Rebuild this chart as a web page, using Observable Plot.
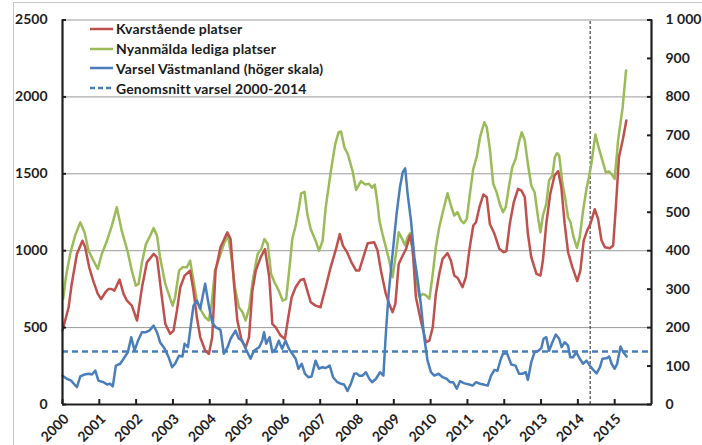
<!DOCTYPE html>
<html><head><meta charset="utf-8">
<script src="https://cdn.jsdelivr.net/npm/d3@7"></script>
<script src="https://cdn.jsdelivr.net/npm/@observablehq/plot@0.6"></script>
<style>
body{margin:0;background:#fff;overflow:hidden}
#wrap{position:relative;width:702px;height:445px;overflow:hidden;font-family:Lato,sans-serif}
#frame{position:absolute;left:13px;top:2px;width:800px;height:600px;border-left:1px solid #c6c6c6;border-top:1px solid #c6c6c6;pointer-events:none}
#legend{position:absolute;left:90px;top:19px;font-weight:bold;font-size:14px;letter-spacing:0.15px;color:#1a1a1a;font-family:Lato,sans-serif}
.row{height:19.8px;display:flex;align-items:center;white-space:nowrap}
.row svg{margin-right:2px}
</style></head>
<body><div id="wrap"><div id="frame"></div><div id="chart"></div><div id="legend"></div></div>
<script>
// Series: [month index from Jan 2000, value]
const kvarstaende = [[0,481],[2,632],[3,784],[4.7,979],[6.5,1065],[7.4,1022],[8.7,892],[10,805],[11.5,719],[12.6,686],[14,730],[15,751],[16,751],[16.9,740],[18.6,812],[19.9,719],[21,675],[22.6,643],[24.3,546],[25.9,760],[27.5,924],[29.7,979],[30.8,957],[32.4,697],[33.5,524],[35.1,459],[36.2,481],[37.3,611],[38.4,762],[39.8,838],[41.6,870],[42.7,740],[43.8,567],[44.9,437],[46.5,351],[47.7,329],[48.8,437],[49.9,870],[51.5,1022],[53.7,1119],[54.8,1076],[55.9,784],[57,546],[58.4,416],[59.7,372],[60.8,437],[61.9,740],[63,870],[64.6,957],[66,1011],[67.4,827],[68.4,524],[69.5,502],[71.1,448],[72.5,426],[73.6,567],[74.7,697],[76,762],[77.6,810],[78.7,816],[79.8,740],[80.9,665],[82.5,643],[84.1,632],[85.8,762],[87.4,892],[89,1000],[90.4,1108],[91.4,1033],[92.8,989],[94.2,924],[95.7,871],[96.7,871],[98.4,979],[99.5,1049],[101.6,1055],[102.7,1001],[103.8,871],[105.4,719],[106.5,654],[107.6,600],[108.5,654],[109.6,914],[110.9,969],[112,1012],[113.3,1099],[114.1,1023],[115.2,698],[116.8,546],[118.5,405],[119.6,416],[120.7,503],[121.7,719],[122.8,849],[123.9,947],[125.5,984],[126.6,936],[127.7,839],[128.8,823],[130.4,763],[131.5,828],[132.6,1001],[133.9,1164],[134.8,1185],[135.9,1283],[137.2,1365],[138.3,1348],[139.3,1174],[140.8,1110],[142.4,1012],[143.8,990],[144.7,997],[145.8,1174],[147.1,1315],[148.5,1402],[149.6,1391],[150.7,1348],[151.7,1110],[152.8,958],[154.5,849],[155.8,838],[156.6,936],[157.7,1174],[159,1370],[160.4,1489],[161.6,1517],[162.6,1413],[163.7,1174],[164.8,990],[166.2,893],[167.8,802],[168.8,871],[169.9,1066],[171,1131],[172.1,1174],[173.5,1270],[174.6,1205],[175.7,1066],[176.8,1023],[178.4,1016],[179.5,1034],[180.3,1261],[181.4,1608],[182.7,1728],[183.8,1847]];

const nyanmalda = [[0.2,686],[1.1,827],[2.5,979],[4.1,1098],[5.8,1184],[7.2,1119],[8.5,1000],[10.1,935],[11.5,881],[12.8,979],[14.5,1065],[16.1,1163],[17.7,1282],[19.3,1130],[21.3,989],[22.6,870],[23.9,773],[24.8,784],[25.9,924],[27.2,1043],[28.6,1098],[29.7,1147],[30.8,1098],[31.8,957],[33.5,784],[34.6,719],[35.9,643],[36.7,697],[38,870],[39.1,892],[40.5,892],[41.6,935],[42.7,805],[43.8,675],[45.2,611],[46.5,567],[47.7,546],[48.6,654],[49.7,870],[51,946],[52.6,1044],[54,1098],[55.2,935],[56.2,762],[57.5,632],[58.7,600],[59.7,546],[60.9,632],[62,805],[63.6,979],[64.8,1011],[65.8,1076],[66.9,1044],[68,849],[69.1,795],[70.5,740],[71.8,675],[72.9,686],[74,892],[74.9,1076],[76,1163],[77.1,1282],[77.8,1373],[78.9,1383],[79.8,1238],[80.9,1141],[82.5,1065],[83.6,1000],[84.8,1065],[85.8,1282],[87.5,1520],[88.9,1693],[90,1769],[90.8,1775],[91.9,1671],[93,1628],[94.6,1515],[95.7,1395],[97.3,1452],[98.7,1430],[99.9,1435],[100.9,1409],[101.8,1430],[102.7,1305],[103.3,1196],[104.3,1109],[105.4,1023],[106.5,936],[107.6,828],[108.7,979],[109.6,1120],[110.7,1077],[111.7,1034],[112.5,1088],[113.3,1114],[114.1,1001],[115.2,828],[116.3,698],[117.4,719],[118.5,709],[119.6,687],[120.7,849],[121.7,1023],[122.8,1153],[124.1,1261],[125.5,1374],[126.6,1294],[127.7,1229],[128.8,1250],[129.9,1196],[130.8,1179],[131.8,1207],[132.8,1370],[133.9,1532],[135,1608],[136.1,1738],[137.5,1835],[138.3,1803],[139.3,1662],[140.4,1435],[141.5,1380],[142.6,1300],[143.6,1250],[144.5,1283],[145.5,1413],[146.6,1543],[147.7,1597],[148.8,1705],[149.7,1770],[150.7,1716],[151.7,1565],[152.8,1424],[153.9,1380],[155,1218],[155.8,1120],[156.6,1229],[157.7,1305],[158.6,1456],[159.7,1489],[160.5,1608],[161.2,1634],[161.9,1619],[163,1435],[163.8,1348],[164.8,1218],[165.6,1185],[166.6,1088],[167.7,1018],[168.6,1088],[169.7,1261],[170.8,1402],[171.6,1478],[172.4,1565],[173.7,1755],[174.9,1662],[176,1586],[177.1,1510],[178.2,1515],[179.3,1489],[180,1467],[181.1,1716],[182.6,1933],[183.7,2171]];

// right scale values
const varsel = [[0,75],[1.4,67],[2.8,62],[3.9,52],[4.7,45],[5.8,73],[7.2,78],[8.5,80],[9.6,78],[10.7,88],[11.7,62],[13.4,58],[14.5,52],[15.5,54],[16.4,47],[17.4,101],[18.8,106],[19.9,119],[21.3,136],[22.4,175],[23.5,140],[24.6,166],[25.9,188],[27.2,188],[28.3,192],[29.7,205],[30.8,188],[31.8,162],[33.3,145],[34.6,123],[35.7,97],[36.7,106],[38,127],[39.1,125],[39.8,158],[40.9,149],[41.9,210],[42.7,257],[43.8,270],[44.9,249],[46.5,314],[47.7,257],[48.8,214],[49.9,201],[51.5,194],[52.6,132],[53.8,149],[54.8,171],[56.4,192],[57.5,171],[58.6,166],[59.7,145],[61.3,119],[62.4,140],[64.1,149],[65.1,166],[65.7,188],[66.4,158],[67.5,175],[68.4,136],[69.5,145],[70.5,166],[71.6,145],[72.7,166],[73.8,145],[74.9,132],[76,119],[76.9,93],[78,106],[79,80],[80.1,71],[81.2,73],[82.5,114],[83.6,93],[84.7,97],[85.8,95],[87.1,101],[88.2,71],[89.6,58],[90.7,54],[91.8,52],[92.9,35],[94,54],[95.1,80],[95.8,81],[96.7,75],[97.8,75],[98.9,84],[100,67],[100.9,58],[102.2,67],[103.5,84],[104.6,75],[105.4,184],[106.3,288],[107.6,392],[108.9,496],[110,565],[110.9,604],[111.7,614],[112.5,548],[113.6,478],[114.7,383],[115.8,322],[116.8,262],[117.9,175],[119,114],[120.1,84],[121.2,75],[122.6,80],[123.9,71],[125.2,67],[126.3,58],[127.4,58],[128.5,41],[129.6,61],[131,55],[132.6,52],[133.7,49],[134.8,58],[136.1,54],[137.2,52],[138.6,49],[139.7,75],[140.8,90],[141.8,88],[142.9,119],[143.6,132],[144.9,133],[146.3,104],[147.7,101],[148.8,80],[149.9,80],[151,84],[151.7,64],[152.8,110],[153.9,136],[155,139],[156.1,147],[156.8,171],[157.7,175],[158.6,140],[159.7,162],[160.8,182],[161.9,171],[162.7,149],[163.7,162],[164.8,153],[165.5,123],[166.4,123],[167.5,136],[168.6,119],[169.7,106],[170.8,114],[171.9,101],[173,90],[174.1,81],[175.2,97],[176,119],[177.3,120],[178.2,125],[179,106],[180,93],[180.8,106],[181.9,151],[182.8,136],[183.9,125]];

const genomsnittVarsel = 138;      // average 2000-2014, right scale
const markerMonth = 172;           // vertical dashed marker (May 2014)
const leftTicks = [0, 500, 1000, 1500, 2000, 2500];
const rightTicks = [0, 100, 200, 300, 400, 500, 600, 700, 800, 900, 1000];
const years = d3.range(2000, 2016);
const seriesNames = ["Kvarstående platser", "Nyanmälda lediga platser", "Varsel Västmanland (höger skala)", "Genomsnitt varsel 2000-2014"];
const colors = ["#c0504d", "#9bbb59", "#4a7ebb", "#4a7ebb"];

const ratio = 2.5; // left/right scale ratio
const toYear = m => 2000 + m / 12;
const red = kvarstaende.map(([m, v]) => ({x: toYear(m), y: v}));
const green = nyanmalda.map(([m, v]) => ({x: toYear(m), y: v}));
const blue = varsel.map(([m, v]) => ({x: toYear(m), y: v * ratio}));
const fmtR = v => String(v).replace(/\B(?=(\d{3})+$)/g, " ");

const ink = "#1e1e1e";
const chart = Plot.plot({
  width: 702, height: 445,
  marginLeft: 62, marginRight: 51, marginTop: 19.5, marginBottom: 41,
  x: {domain: [2000, 2016], label: null},
  y: {domain: [0, 2500], label: null},
  style: {fontFamily: "Lato, sans-serif", fontWeight: "bold", fontSize: "14px", color: ink, background: "transparent"},
  marks: [
    Plot.gridY(leftTicks.slice(1), {stroke: "#9a9a9a", strokeOpacity: 1, strokeWidth: 1}),
    Plot.ruleY([genomsnittVarsel * ratio], {stroke: colors[3], strokeWidth: 2.5, strokeDasharray: "6,4"}),
    Plot.ruleX([toYear(markerMonth)], {y1: 0, y2: 2500, stroke: "#222", strokeWidth: 1, strokeDasharray: "3,2"}),
    Plot.line(green, {x: "x", y: "y", stroke: colors[1], strokeWidth: 2.5}),
    Plot.line(red, {x: "x", y: "y", stroke: colors[0], strokeWidth: 2.5}),
    Plot.line(blue, {x: "x", y: "y", stroke: colors[2], strokeWidth: 2.5}),
    Plot.ruleX([2000, 2016], {stroke: ink, strokeWidth: 2.2}),
    Plot.ruleY([0], {stroke: ink, strokeWidth: 2.2}),
    Plot.axisY(leftTicks, {anchor: "left", label: null, tickSize: 0, tickPadding: 15, tickFormat: d => String(d), fill: ink}),
    Plot.axisY(leftTicks, {anchor: "left", label: null, tickSize: -4, tickFormat: () => "", stroke: ink, strokeWidth: 2}),
    Plot.axisY(rightTicks.map(v => v * ratio), {anchor: "right", label: null, tickSize: 0, tickPadding: 14, tickFormat: d => fmtR(Math.round(d / ratio)), fill: ink}),
    Plot.axisY(rightTicks.map(v => v * ratio), {anchor: "right", label: null, tickSize: -5, tickFormat: () => "", stroke: ink, strokeWidth: 2}),
    Plot.axisX(years, {anchor: "bottom", label: null, tickSize: -5, tickFormat: () => "", stroke: ink, strokeWidth: 2}),
    Plot.axisX(years, {anchor: "bottom", label: null, tickSize: 0, tickPadding: 12, tickRotate: -45, tickFormat: d => String(d), fill: ink, dx: 4}),
  ]
});
document.getElementById("chart").appendChild(chart);

const legend = document.getElementById("legend");
seriesNames.forEach((name, i) => {
  const row = document.createElement("div");
  row.className = "row";
  const dash = i === 3 ? 'stroke-dasharray="5,3"' : "";
  row.innerHTML = `<svg width="24" height="6"><line x1="0" y1="3" x2="23" y2="3" stroke="${colors[i]}" stroke-width="2.5" ${dash}/></svg><span>${name}</span>`;
  legend.appendChild(row);
});
</script></body></html>
